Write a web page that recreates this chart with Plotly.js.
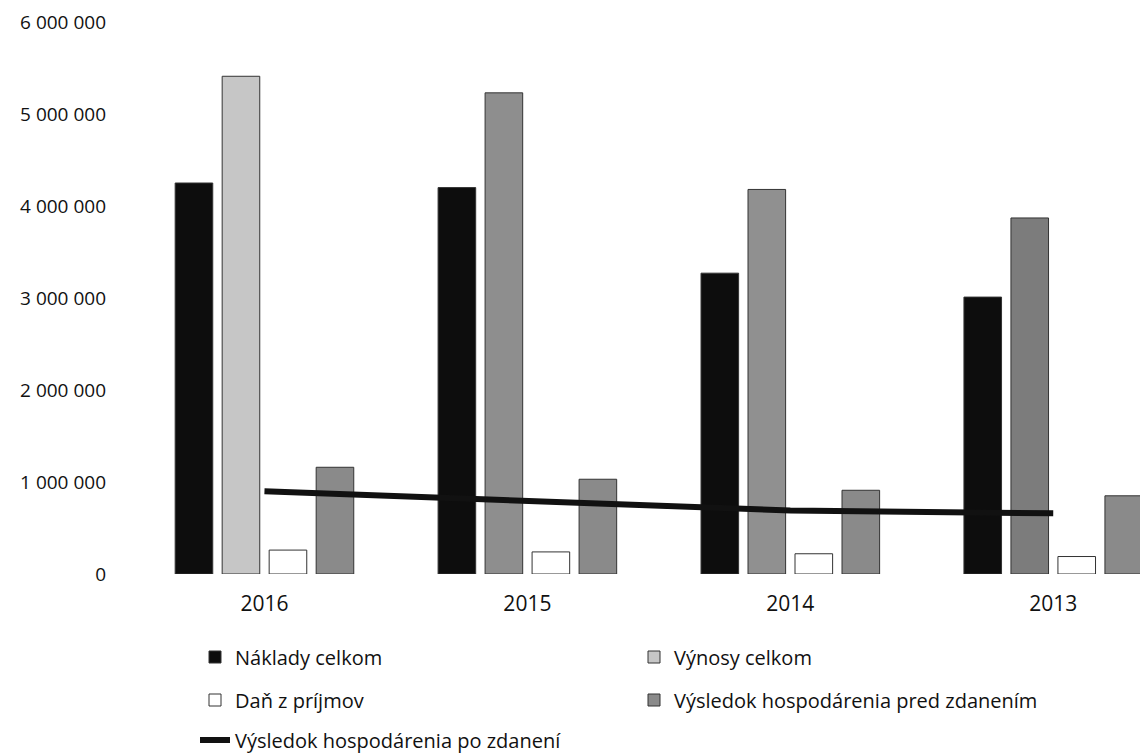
<!DOCTYPE html>
<html>
<head>
<meta charset="utf-8">
<script src="https://cdn.plot.ly/plotly-3.0.1.min.js"></script>
<style>
html,body{margin:0;padding:0;background:#fff;overflow:hidden;}
#chart{width:1140px;height:756px;}
</style>
</head>
<body>
<div id="chart"></div>
<script>
// Data
var years = ['2016', '2015', '2014', '2013'];
var naklady = [4250000, 4200000, 3270000, 3010000];
var vynosy = [5410000, 5230000, 4180000, 3870000];
var dan = [260000, 240000, 220000, 190000];
var vhPred = [1160000, 1030000, 910000, 850000];
var vhPo = [900000, 790000, 690000, 660000];

var seriesNames = ['Náklady celkom', 'Výnosy celkom', 'Daň z príjmov',
  'Výsledok hospodárenia pred zdanením', 'Výsledok hospodárenia po zdanení'];

var vynosyColors = ['#c6c6c6', '#8e8e8e', '#909090', '#7c7c7c'];
var outline = {color: '#333', width: 1};

var traces = [
  {type: 'bar', name: seriesNames[0], x: years, y: naklady,
   marker: {color: '#0d0d0d', line: outline}, legend: 'legend'},
  {type: 'bar', name: seriesNames[1], x: years, y: vynosy,
   marker: {color: vynosyColors, line: outline}, legend: 'legend'},
  {type: 'bar', name: seriesNames[2], x: years, y: dan,
   marker: {color: '#ffffff', line: outline}, legend: 'legend2'},
  {type: 'bar', name: seriesNames[3], x: years, y: vhPred,
   marker: {color: '#8a8a8a', line: outline}, legend: 'legend2'},
  {type: 'scatter', mode: 'lines', name: seriesNames[4], x: years, y: vhPo,
   line: {color: '#111', width: 6}, legend: 'legend3'}
];

var legFont = {family: '"Open Sans", sans-serif', size: 20, color: '#111'};
function leg(yPx) {
  return {orientation: 'h', xref: 'container', yref: 'container',
    x: 195 / 1140, y: 1 - yPx / 756, xanchor: 'left', yanchor: 'middle',
    entrywidth: 394, entrywidthmode: 'pixels', font: legFont,
    bgcolor: 'rgba(0,0,0,0)', traceorder: 'normal'};
}

var layout = {
  width: 1140, height: 756,
  margin: {l: 133, r: 0, t: 22, b: 182},
  paper_bgcolor: '#fff', plot_bgcolor: '#fff',
  separators: '. ',
  barmode: 'group', bargap: 0.285, bargroupgap: 0.2,
  showlegend: true,
  font: {family: '"Open Sans", sans-serif', color: '#111'},
  xaxis: {type: 'category', range: [-0.5, 3.33], showline: false, showgrid: false,
    zeroline: false, ticks: '', tickfont: {size: 21, color: '#111'}, ticklabelstandoff: 15},
  yaxis: {range: [0, 6000000], dtick: 1000000, tickformat: ',d', showline: false,
    showgrid: false, zeroline: false, ticks: '', tickfont: {size: 19, color: '#111'},
    ticklabelstandoff: 26},
  legend: leg(657),
  legend2: leg(700),
  legend3: leg(740)
};

Plotly.newPlot('chart', traces, layout, {displayModeBar: false, staticPlot: true});
</script>
</body>
</html>
